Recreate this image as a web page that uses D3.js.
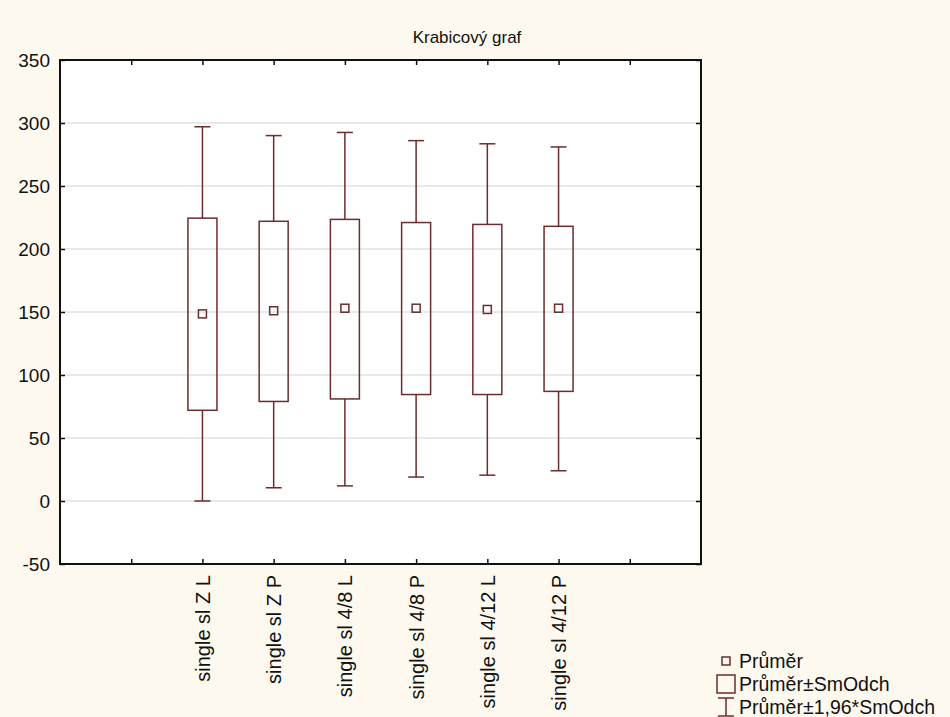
<!DOCTYPE html>
<html lang="cs">
  <head>
    <meta charset="UTF-8" />
    <title>Krabicový graf</title>
    <style>
      body {
        margin: 0;
        background: #fdf9ef;
      }
      svg text {
        font-family: "Liberation Sans", Arial, sans-serif;
        fill: #111;
      }
    </style>
  </head>
  <body>
    <svg width="950" height="717" id="chart"></svg>

    <script src="https://d3js.org/d3.v7.min.js"></script>
    <script>
      var categories = [
        "single sl Z L",
        "single sl Z P",
        "single sl 4/8 L",
        "single sl 4/8 P",
        "single sl 4/12 L",
        "single sl 4/12 P",
      ];
      // průměr, průměr ± SmOdch, průměr ± 1,96*SmOdch
      var means = [148.5, 151, 153, 153, 152, 153];
      var sdLow = [72, 79, 81, 84.5, 84.5, 87];
      var sdHigh = [224.5, 222, 223.5, 221, 219.5, 218];
      var ciLow = [0, 10.5, 12, 19, 20.5, 24];
      var ciHigh = [297, 290, 292.5, 286, 283.5, 281];
      var yTicks = [-50, 0, 50, 100, 150, 200, 250, 300, 350];
      var legendLabels = ["Průměr", "Průměr±SmOdch", "Průměr±1,96*SmOdch"];

      var pLeft = 60, pRight = 701, pTop = 60, pBottom = 564;
      var boxColor = "#6b2d2d";

      var svg = d3.select("#chart");

      // prázdné pozice na krajích osy
      var xs = d3
        .scalePoint()
        .domain(["_a"].concat(categories, ["_b"]))
        .range([pLeft, pRight])
        .padding(1);
      var ys = d3.scaleLinear().domain([-50, 350]).range([pBottom, pTop]);

      svg
        .append("rect")
        .attr("x", pLeft)
        .attr("y", pTop)
        .attr("width", pRight - pLeft)
        .attr("height", pBottom - pTop)
        .attr("fill", "#fff");

      // mřížka
      svg
        .append("g")
        .selectAll("line")
        .data(yTicks.filter(function (d) { return d > -50 && d < 350; }))
        .join("line")
        .attr("x1", pLeft)
        .attr("x2", pRight)
        .attr("y1", function (d) { return ys(d); })
        .attr("y2", function (d) { return ys(d); })
        .attr("stroke", "#d4d4d4")
        .attr("stroke-width", 1.2);

      var data = categories.map(function (c, i) {
        return {
          name: c,
          mean: means[i],
          sdLow: sdLow[i],
          sdHigh: sdHigh[i],
          ciLow: ciLow[i],
          ciHigh: ciHigh[i],
        };
      });

      var boxW = 29, capW = 16, meanS = 8;
      var g = svg
        .append("g")
        .selectAll("g")
        .data(data)
        .join("g")
        .attr("transform", function (d) { return "translate(" + xs(d.name) + ",0)"; })
        .attr("stroke", boxColor)
        .attr("stroke-width", 1.5)
        .attr("fill", "none");

      g.append("line")
        .attr("y1", function (d) { return ys(d.ciHigh); })
        .attr("y2", function (d) { return ys(d.sdHigh); });
      g.append("line")
        .attr("y1", function (d) { return ys(d.sdLow); })
        .attr("y2", function (d) { return ys(d.ciLow); });
      g.append("line")
        .attr("x1", -capW / 2)
        .attr("x2", capW / 2)
        .attr("y1", function (d) { return ys(d.ciHigh); })
        .attr("y2", function (d) { return ys(d.ciHigh); });
      g.append("line")
        .attr("x1", -capW / 2)
        .attr("x2", capW / 2)
        .attr("y1", function (d) { return ys(d.ciLow); })
        .attr("y2", function (d) { return ys(d.ciLow); });
      g.append("rect")
        .attr("x", -boxW / 2)
        .attr("width", boxW)
        .attr("y", function (d) { return ys(d.sdHigh); })
        .attr("height", function (d) { return ys(d.sdLow) - ys(d.sdHigh); });
      g.append("rect")
        .attr("x", -meanS / 2)
        .attr("width", meanS)
        .attr("y", function (d) { return ys(d.mean) - meanS / 2; })
        .attr("height", meanS);

      // osy, tiky dovnitř
      svg
        .append("g")
        .attr("transform", "translate(" + pLeft + ",0)")
        .call(
          d3.axisLeft(ys).tickValues(yTicks).tickSizeInner(-5).tickSizeOuter(0).tickPadding(10)
            .tickFormat(function (d) { return String(d); })
        )
        .call(function (a) {
          a.selectAll("text").attr("font-size", 19).attr("fill", "#111");
        });
      svg
        .append("g")
        .attr("transform", "translate(" + pRight + ",0)")
        .call(d3.axisRight(ys).tickValues(yTicks).tickSizeInner(-5).tickSizeOuter(0).tickFormat(""));
      svg
        .append("g")
        .attr("transform", "translate(0," + pTop + ")")
        .call(d3.axisTop(xs).tickSizeInner(-5).tickSizeOuter(0).tickFormat(""));
      svg
        .append("g")
        .attr("transform", "translate(0," + pBottom + ")")
        .call(
          d3.axisBottom(xs).tickSizeInner(-5).tickSizeOuter(0)
            .tickFormat(function (d) { return d.charAt(0) === "_" ? "" : d; })
        )
        .call(function (a) {
          a.selectAll("text")
            .attr("font-size", 20)
            .attr("fill", "#111")
            .attr("text-anchor", "end")
            .attr("transform", "rotate(-90)")
            .attr("x", -11)
            .attr("y", 0)
            .attr("dy", "0.35em");
        });
      svg.selectAll(".domain").remove();
      svg.selectAll(".tick line").attr("stroke", "#111").attr("stroke-width", 1.5);

      svg
        .append("rect")
        .attr("x", pLeft)
        .attr("y", pTop)
        .attr("width", pRight - pLeft)
        .attr("height", pBottom - pTop)
        .attr("fill", "none")
        .attr("stroke", "#111")
        .attr("stroke-width", 2);

      svg
        .append("text")
        .attr("x", 467)
        .attr("y", 43)
        .attr("text-anchor", "middle")
        .attr("font-size", 17)
        .text("Krabicový graf");

      // legenda
      var leg = svg.append("g");
      var rowY = [661, 684, 707];
      leg.selectAll("text")
        .data(legendLabels)
        .join("text")
        .attr("x", 739)
        .attr("y", function (d, i) { return rowY[i]; })
        .attr("dy", "0.35em")
        .attr("font-size", 19.5)
        .text(function (d) { return d; });
      var sym = leg.append("g").attr("stroke", boxColor).attr("stroke-width", 1.5).attr("fill", "none");
      sym.append("rect").attr("x", 722).attr("y", rowY[0] - 4).attr("width", 8).attr("height", 8);
      sym.append("rect").attr("x", 717).attr("y", rowY[1] - 9).attr("width", 18).attr("height", 18);
      sym.append("line").attr("x1", 726).attr("x2", 726).attr("y1", rowY[2] - 9).attr("y2", rowY[2] + 9);
      sym.append("line").attr("x1", 718).attr("x2", 734).attr("y1", rowY[2] - 9).attr("y2", rowY[2] - 9);
      sym.append("line").attr("x1", 718).attr("x2", 734).attr("y1", rowY[2] + 9).attr("y2", rowY[2] + 9);
    </script>
  </body>
</html>
